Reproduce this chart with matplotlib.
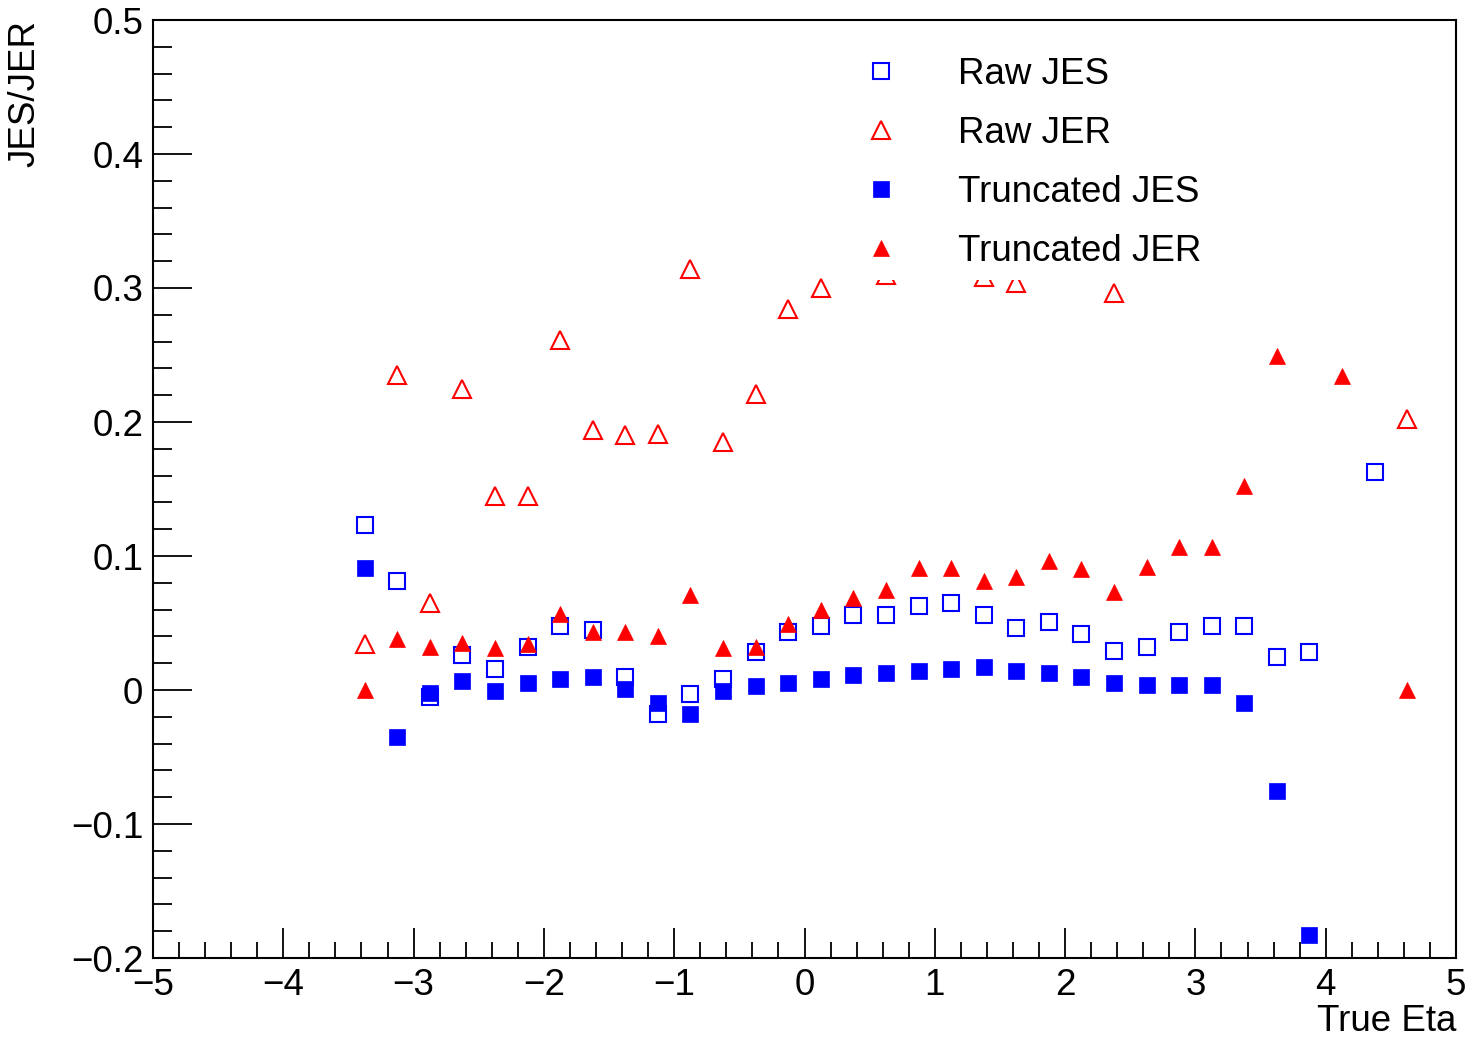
import numpy as np
import matplotlib
matplotlib.use("Agg")
import matplotlib.pyplot as plt
from matplotlib.ticker import MultipleLocator

plt.rcParams['font.family'] = ['Liberation Sans', 'DejaVu Sans']

nan = np.nan
eta = [-3.375, -3.125, -2.875, -2.625, -2.375, -2.125, -1.875, -1.625, -1.375,
       -1.125, -0.875, -0.625, -0.375, -0.125, 0.125, 0.375, 0.625, 0.875,
       1.125, 1.375, 1.625, 1.875, 2.125, 2.375, 2.625, 2.875, 3.125, 3.375,
       3.625, 3.875, 4.125, 4.375, 4.625]

raw_jes = [0.123, 0.081, -0.005, 0.026, 0.016, 0.032, 0.048, 0.045, 0.010,
           -0.018, -0.003, 0.008, 0.028, 0.043, 0.048, 0.056, 0.056, 0.063,
           0.065, 0.056, 0.046, 0.051, 0.042, 0.029, 0.032, 0.043, 0.048, 0.048,
           0.025, 0.028, nan, 0.163, nan]

raw_jer = [0.034, 0.235, 0.065, 0.225, 0.145, 0.145, 0.261, 0.194, 0.190,
           0.191, 0.314, 0.185, 0.221, 0.284, 0.300, nan, 0.310, nan,
           nan, 0.308, 0.304, nan, nan, 0.296, nan, nan, nan, nan,
           nan, nan, nan, nan, 0.202]

trunc_jes = [0.091, -0.035, -0.002, 0.007, -0.001, 0.005, 0.008, 0.010, 0.001,
             -0.010, -0.018, -0.001, 0.003, 0.005, 0.008, 0.011, 0.013, 0.014,
             0.016, 0.017, 0.014, 0.013, 0.010, 0.005, 0.004, 0.004, 0.004, -0.010,
             -0.075, -0.183, nan, nan, nan]

trunc_jer = [0.0, 0.038, 0.032, 0.035, 0.031, 0.034, 0.057, 0.043, 0.043,
             0.040, 0.071, 0.031, 0.032, 0.049, 0.060, 0.069, 0.075, 0.091,
             0.091, 0.081, 0.084, 0.096, 0.090, 0.073, 0.092, 0.107, 0.107, 0.152,
             0.249, nan, 0.234, nan, 0.0]

labels = ["Raw JES", "Raw JER", "Truncated JES", "Truncated JER"]

BLUE = (0, 0, 1)
RED = (1, 0, 0)
FS = 26.5

fig = plt.figure(figsize=(14.68, 10.38), dpi=100)
ax = fig.add_axes([153/1468, 80/1038, 1303/1468, 938/1038])

h1, = ax.plot(eta, raw_jes, ls='none', marker='s', ms=11.5, mfc='none', mec=BLUE, mew=1.5)
h2, = ax.plot(eta, raw_jer, ls='none', marker='^', ms=12.5, mfc='none', mec=RED, mew=1.5)
h3, = ax.plot(eta, trunc_jes, ls='none', marker='s', ms=11.5, mfc=BLUE, mec=BLUE, mew=0.5)
h4, = ax.plot(eta, trunc_jer, ls='none', marker='^', ms=11, mfc=RED, mec=RED, mew=0.5)

ax.set_xlim(-5, 5)
ax.set_ylim(-0.2, 0.5)
ax.xaxis.set_major_locator(MultipleLocator(1))
ax.xaxis.set_minor_locator(MultipleLocator(0.2))
ax.yaxis.set_major_locator(MultipleLocator(0.1))
ax.yaxis.set_minor_locator(MultipleLocator(0.02))
ax.xaxis.set_major_formatter(plt.FuncFormatter(lambda v, p: f"{v:g}".replace('-', '\u2212')))
ax.yaxis.set_major_formatter(plt.FuncFormatter(lambda v, p: ('0' if abs(v) < 1e-9 else f"{v:.1f}").replace('-', '\u2212')))

ax.tick_params(axis='both', which='both', direction='in', top=False, right=False,
               width=1.3, color='black', labelsize=FS)
ax.tick_params(axis='x', which='major', length=21.6, pad=7.5)
ax.tick_params(axis='x', which='minor', length=11.5)
ax.tick_params(axis='y', which='major', length=28, pad=7)
ax.tick_params(axis='y', which='minor', length=13.7)
for s in ax.spines.values():
    s.set_linewidth(1.5)

ax.set_xlabel("True Eta", fontsize=FS, loc='right')
ax.set_ylabel("JES/JER", fontsize=FS, loc='top')
ax.xaxis.set_label_coords(1.0, -0.049)
ax.yaxis.set_label_coords(-0.085, 1.0)

leg = ax.legend([h1, h2, h3, h4], labels, loc='upper left', bbox_to_anchor=(0.522, 0.972),
                frameon=True, framealpha=1, facecolor='white', edgecolor='none',
                fontsize=FS, handlelength=2.0, handletextpad=1.1, labelspacing=0.65,
                borderpad=0.3, borderaxespad=0, fancybox=False)
leg.set_zorder(10)

fig.savefig("out.png", dpi=100)
